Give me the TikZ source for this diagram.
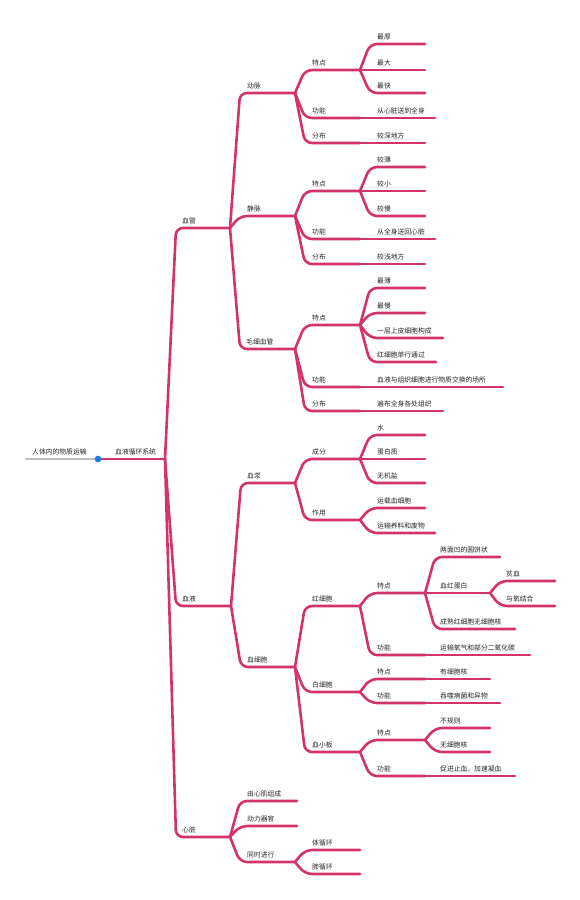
\documentclass[tikz,border=0pt]{standalone}
\usepackage{fontspec}
\newfontfamily\cjk{Noto Sans CJK SC}
\definecolor{mmred}{HTML}{D4336A}
\definecolor{mmblue}{HTML}{1F7BE6}
\tikzset{
  lbl/.style={anchor=base west, inner sep=0pt, yshift=4.5pt, font=\cjk\fontsize{6.8}{8}\selectfont, text=black!85},
  branch/.style={draw=mmred, line width=2.6pt, rounded corners=7pt, line cap=round, line join=round},
  rootline/.style={draw=black!25, line width=2.2pt},
}
\newcommand\tp[6]{\coordinate (#1-c) at (#2,#3); \coordinate (#1-e) at (#4,#3); \node[lbl] (#1) at (#5,#3) {#6};}
\newcommand\lk[2]{\draw[branch] (#1-e) -- (#2-c) -- (#2-e);}
\begin{document}
\begin{tikzpicture}[x=1pt,y=-1pt]
\useasboundingbox[fill=white] (0,0) rectangle (580,900);
% topics
\tp{root}{25}{459}{98}{32}{人体内的物质运输}
\tp{sys}{98}{459}{165}{115}{血液循环系统}
\tp{xg}{176}{228}{230}{182}{血管}
\tp{xy}{176}{606}{231}{182}{血液}
\tp{xz}{176}{837}{230}{182}{心脏}
% arteries
\tp{dm}{240}{93}{295}{247}{动脉}
\tp{dmA}{305}{70}{360}{312}{特点}
\tp{dmB}{305}{118}{360}{312}{功能}
\tp{dmC}{305}{143}{360}{312}{分布}
\tp{dmAa}{370}{44}{425}{377}{最厚}
\tp{dmAb}{370}{70}{425}{377}{最大}
\tp{dmAc}{370}{93}{425}{377}{最快}
\tp{dmBa}{370}{118}{435}{377}{从心脏送到全身}
\tp{dmCa}{370}{143}{425}{377}{较深地方}
% veins
\tp{jm}{240}{216}{295}{247}{静脉}
\tp{jmA}{305}{191}{360}{312}{特点}
\tp{jmB}{305}{239}{360}{312}{功能}
\tp{jmC}{305}{264}{360}{312}{分布}
\tp{jmAa}{370}{167}{425}{377}{较薄}
\tp{jmAb}{370}{191}{425}{377}{较小}
\tp{jmAc}{370}{216}{425}{377}{较慢}
\tp{jmBa}{370}{239}{435}{377}{从全身送回心脏}
\tp{jmCa}{370}{264}{425}{377}{较浅地方}
% capillaries
\tp{mx}{240}{349}{295}{246}{毛细血管}
\tp{mxA}{305}{325}{360}{312}{特点}
\tp{mxB}{305}{387}{360}{312}{功能}
\tp{mxC}{305}{411}{360}{312}{分布}
\tp{mxAa}{370}{288}{425}{377}{最薄}
\tp{mxAb}{370}{313}{425}{377}{最慢}
\tp{mxAc}{370}{338}{443}{377}{一层上皮细胞构成}
\tp{mxAd}{370}{362}{436}{377}{红细胞单行通过}
\tp{mxBa}{370}{387}{503}{377}{血液与组织细胞进行物质交换的场所}
\tp{mxCa}{370}{411}{443}{377}{遍布全身各处组织}
% plasma
\tp{xj}{241}{483}{295}{247}{血浆}
\tp{xjA}{305}{459}{360}{312}{成分}
\tp{xjB}{305}{520}{360}{312}{作用}
\tp{xjAa}{370}{435}{425}{377}{水}
\tp{xjAb}{370}{459}{425}{377}{蛋白质}
\tp{xjAc}{370}{483}{425}{377}{无机盐}
\tp{xjBa}{370}{508}{425}{377}{运载血细胞}
\tp{xjBb}{370}{533}{435}{377}{运输养料和废物}
% blood cells
\tp{xb}{241}{667}{295}{247}{血细胞}
\tp{hx}{305}{606}{360}{312}{红细胞}
\tp{hxA}{370}{593}{425}{377}{特点}
\tp{hxB}{370}{655}{425}{377}{功能}
\tp{hxAa}{435}{557}{500}{440}{两面凹的圆饼状}
\tp{hxAb}{435}{593}{490}{440}{血红蛋白}
\tp{hxAc}{435}{629}{515}{440}{成熟红细胞无细胞核}
\tp{hxAba}{500}{581}{555}{506}{贫血}
\tp{hxAbb}{500}{606}{555}{506}{与氧结合}
\tp{hxBa}{435}{655}{530}{440}{运输氧气和部分二氧化碳}
\tp{bx}{305}{692}{360}{312}{白细胞}
\tp{bxA}{370}{679}{425}{377}{特点}
\tp{bxB}{370}{703}{425}{377}{功能}
\tp{bxAa}{435}{679}{490}{440}{有细胞核}
\tp{bxBa}{435}{703}{500}{440}{吞噬病菌和异物}
\tp{xx}{305}{752}{360}{312}{血小板}
\tp{xxA}{370}{740}{425}{377}{特点}
\tp{xxB}{370}{776}{425}{377}{功能}
\tp{xxAa}{435}{728}{490}{440}{不规则}
\tp{xxAb}{435}{752}{490}{440}{无细胞核}
\tp{xxBa}{435}{776}{515}{440}{促进止血，加速凝血}
% heart
\tp{xza}{240}{801}{297}{247}{由心肌组成}
\tp{xzb}{240}{826}{297}{247}{动力器官}
\tp{xzc}{240}{862}{295}{247}{同时进行}
\tp{xzca}{305}{850}{360}{312}{体循环}
\tp{xzcb}{305}{874}{360}{312}{肺循环}
% connectors
\draw[rootline] (root-c) -- (root-e);
\draw[branch] (sys-c) -- (sys-e);
\lk{sys}{xg}\lk{sys}{xy}\lk{sys}{xz}
\lk{xg}{dm}\lk{xg}{jm}\lk{xg}{mx}
\lk{dm}{dmA}\lk{dm}{dmB}\lk{dm}{dmC}
\lk{dmA}{dmAa}\lk{dmA}{dmAb}\lk{dmA}{dmAc}\lk{dmB}{dmBa}\lk{dmC}{dmCa}
\lk{jm}{jmA}\lk{jm}{jmB}\lk{jm}{jmC}
\lk{jmA}{jmAa}\lk{jmA}{jmAb}\lk{jmA}{jmAc}\lk{jmB}{jmBa}\lk{jmC}{jmCa}
\lk{mx}{mxA}\lk{mx}{mxB}\lk{mx}{mxC}
\lk{mxA}{mxAa}\lk{mxA}{mxAb}\lk{mxA}{mxAc}\lk{mxA}{mxAd}\lk{mxB}{mxBa}\lk{mxC}{mxCa}
\lk{xy}{xj}\lk{xy}{xb}
\lk{xj}{xjA}\lk{xj}{xjB}
\lk{xjA}{xjAa}\lk{xjA}{xjAb}\lk{xjA}{xjAc}\lk{xjB}{xjBa}\lk{xjB}{xjBb}
\lk{xb}{hx}\lk{xb}{bx}\lk{xb}{xx}
\lk{hx}{hxA}\lk{hx}{hxB}
\lk{hxA}{hxAa}\lk{hxA}{hxAb}\lk{hxA}{hxAc}\lk{hxAb}{hxAba}\lk{hxAb}{hxAbb}\lk{hxB}{hxBa}
\lk{bx}{bxA}\lk{bx}{bxB}\lk{bxA}{bxAa}\lk{bxB}{bxBa}
\lk{xx}{xxA}\lk{xx}{xxB}\lk{xxA}{xxAa}\lk{xxA}{xxAb}\lk{xxB}{xxBa}
\lk{xz}{xza}\lk{xz}{xzb}\lk{xz}{xzc}
\lk{xzc}{xzca}\lk{xzc}{xzcb}
\fill[mmblue] (root-e) circle (3.3);
\end{tikzpicture}
\end{document}
